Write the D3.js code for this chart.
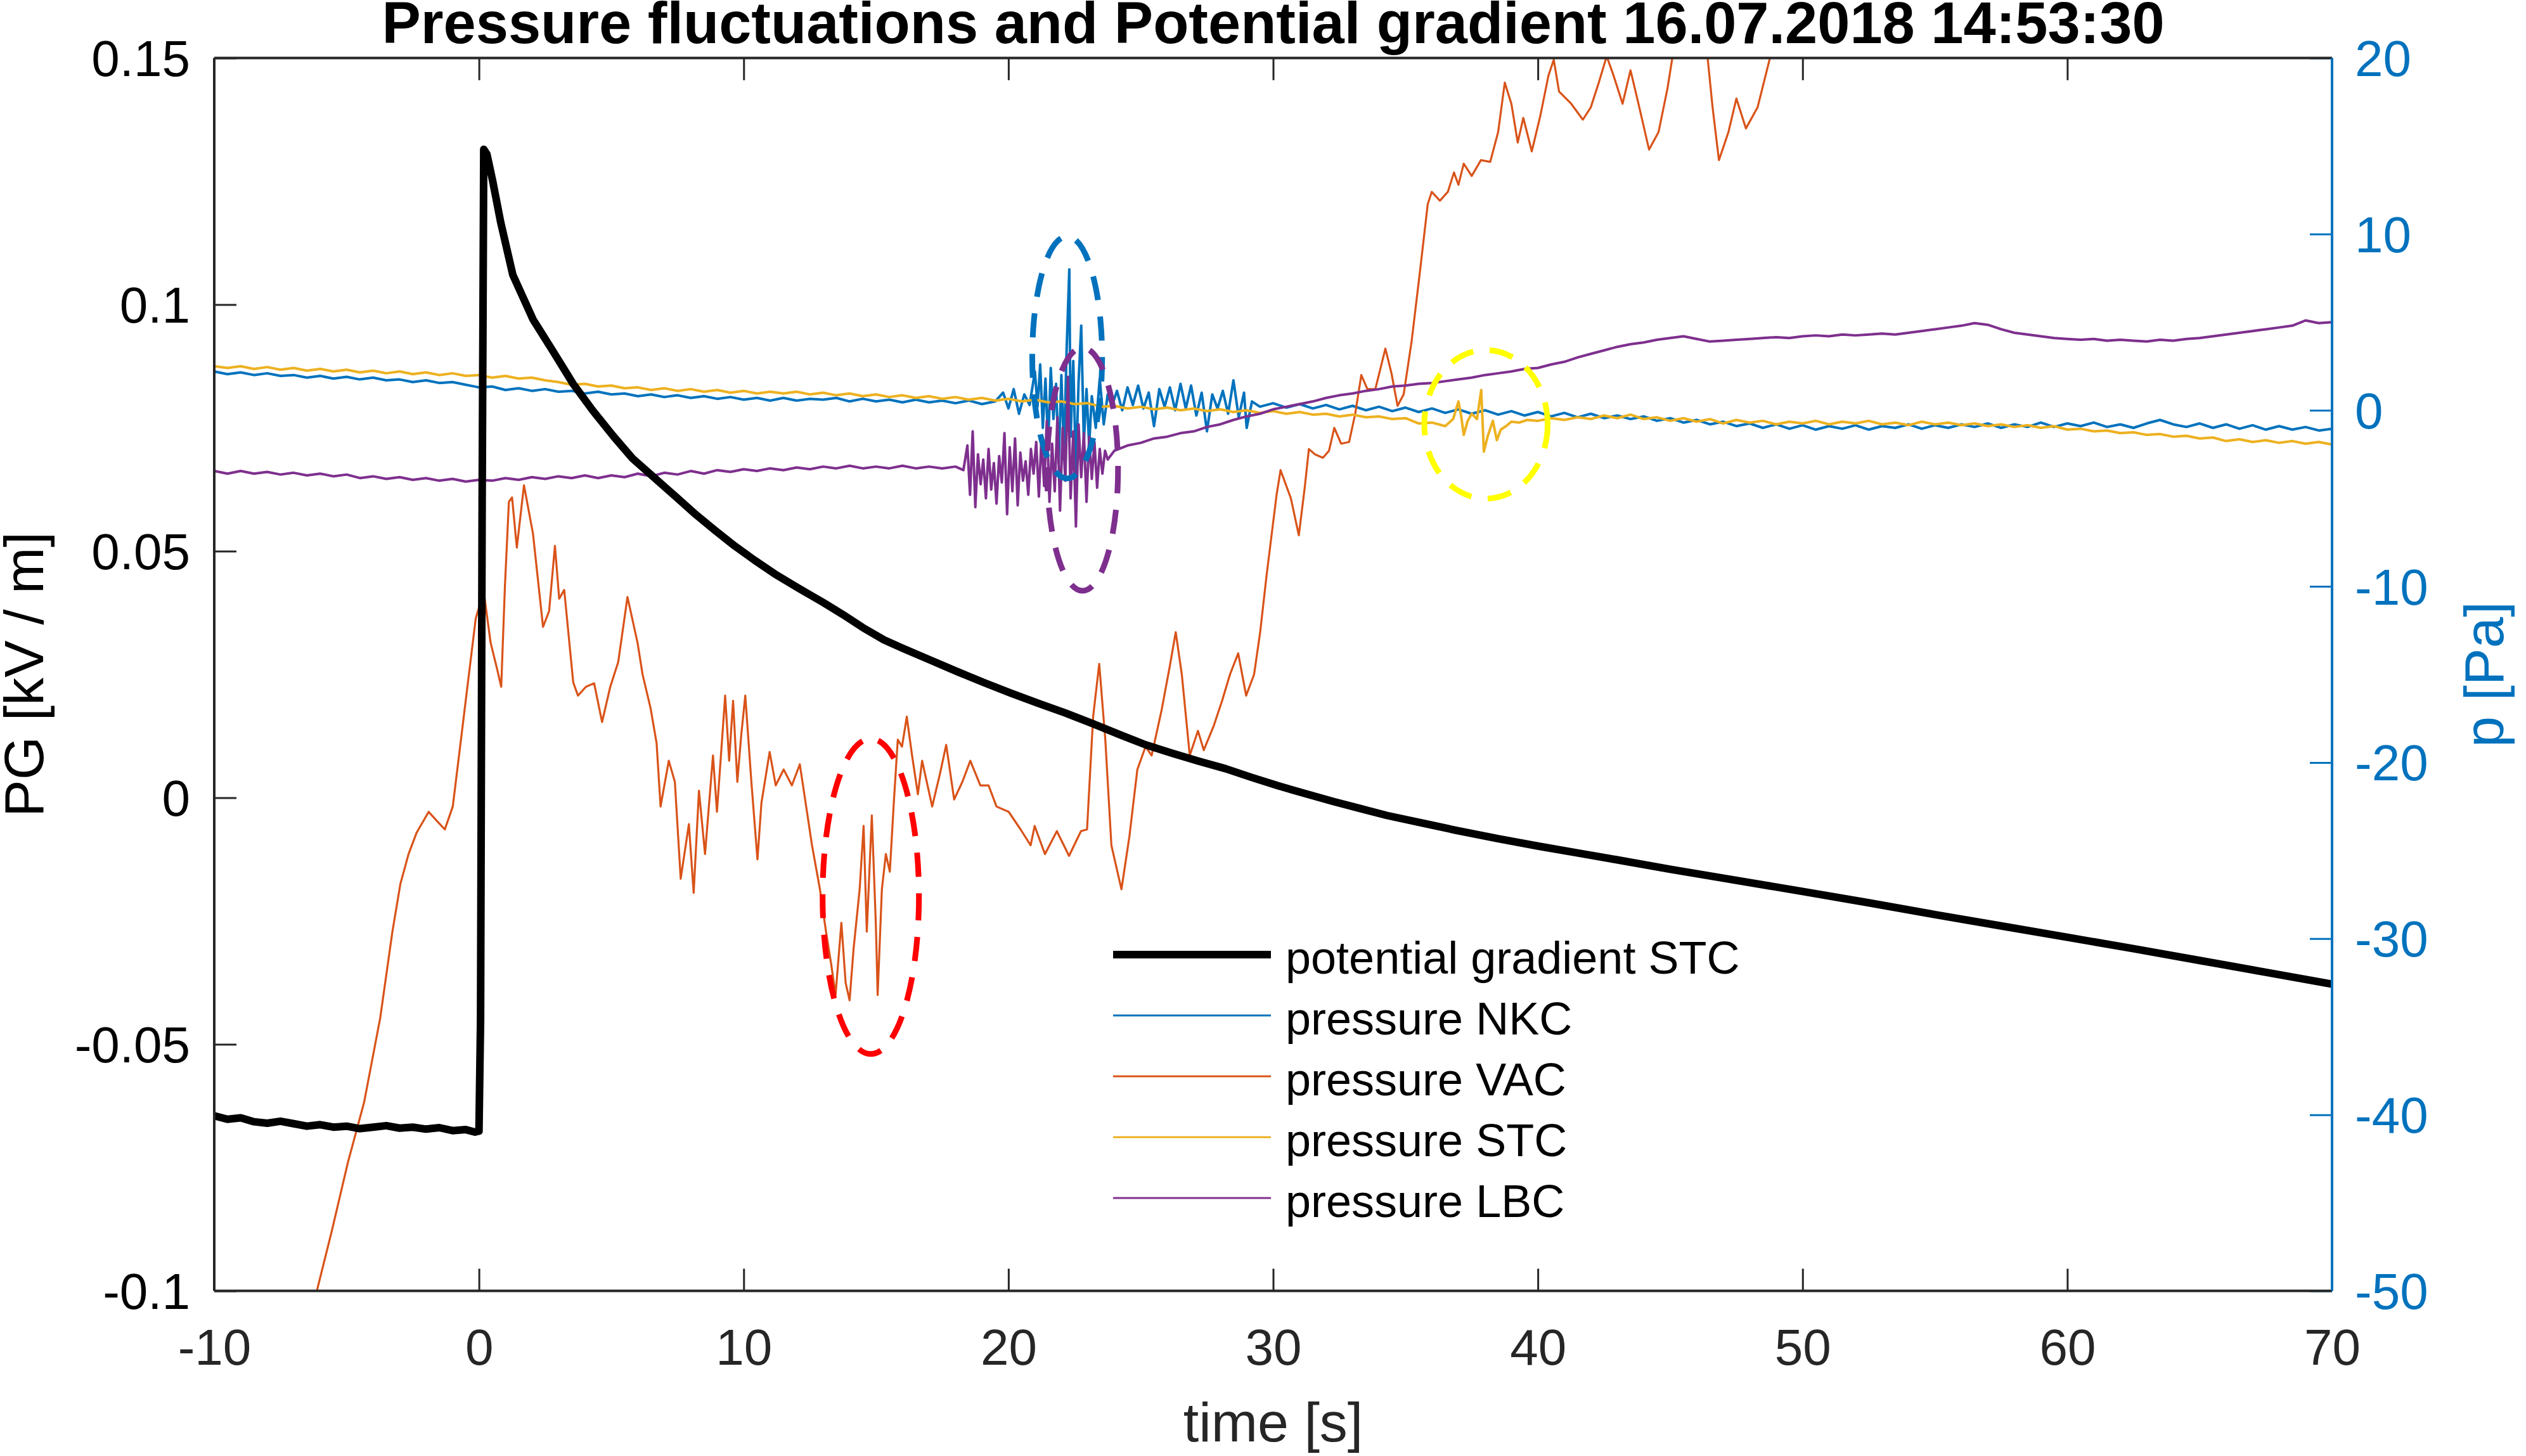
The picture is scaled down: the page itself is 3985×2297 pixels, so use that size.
<!DOCTYPE html>
<html>
<head>
<meta charset="utf-8">
<script src="https://cdn.jsdelivr.net/npm/d3@7"></script>
<style>
  body { margin: 0; background: #fff; }
  text { font-family: "Liberation Sans", Arial, Helvetica, sans-serif; }
</style>
</head>
<body>
<svg id="chart" width="3985" height="2297"></svg>
<script>
// ---- data ----
var xTicks = [-10, 0, 10, 20, 30, 40, 50, 60, 70];
var pgTicks = [-0.1, -0.05, 0, 0.05, 0.1, 0.15];
var pTicks = [-50, -40, -30, -20, -10, 0, 10, 20];

// potential gradient STC [kV/m]  (t, value)
var pgSTC = [[-10,-0.0645],[-9.5,-0.0652],[-9,-0.0649],[-8.5,-0.0657],[-8,-0.066],[-7.5,-0.0656],[-7,-0.0661],
  [-6.5,-0.0666],[-6,-0.0663],[-5.5,-0.0668],[-5,-0.0666],[-4.5,-0.0671],[-4,-0.0668],[-3.5,-0.0665],[-3,-0.067],
  [-2.5,-0.0668],[-2,-0.0672],[-1.5,-0.0669],[-1,-0.0675],[-0.5,-0.0673],[-0.15,-0.0678],[0,-0.0676],
  [0.06,-0.045],[0.12,0.06],[0.18,0.1315],[0.3,0.1305],[0.52,0.125],[0.82,0.1167],[1.28,0.106],[2.04,0.097],
  [2.8,0.0905],[3.56,0.0839],[4.3,0.0785],[5.08,0.0733],[5.8,0.0688],[6.6,0.065],[7.4,0.0612],[8.13,0.0577],
  [8.9,0.0543],[9.65,0.0511],[10.4,0.0482],[11.17,0.0454],[12.1,0.0424],[13.0,0.0396],[13.73,0.0372],[14.5,0.0345],
  [15.3,0.032],[16.05,0.0302],[17.1,0.0278],[18.1,0.0255],[19.1,0.0233],[20.1,0.0212],[21.1,0.0192],[22.14,0.0172],
  [23.2,0.015],[24.2,0.0128],[25.2,0.0107],[26.2,0.009],[27.2,0.0074],[28.2,0.0059],[29.2,0.0041],[30.2,0.0024],
  [31.3,0.0007],[32.3,-0.0008],[33.3,-0.0022],[34.3,-0.0036],[35.6,-0.0051],[36.9,-0.0066],[38.5,-0.0083],
  [40,-0.0098],[41.5,-0.0112],[43,-0.0126],[45,-0.0145],[47,-0.0163],[50,-0.019],[52.5,-0.0213],[55,-0.0237],
  [57.5,-0.026],[60,-0.0283],[62.5,-0.0306],[65,-0.033],[67.5,-0.0354],[70,-0.0378]];

// pressure NKC [Pa]
var pNKC = [[-10,2.2],[-9.5,2.05],[-9,2.15],[-8.5,2.0],[-8,2.1],[-7.5,1.95],[-7,2.0],[-6.5,1.85],[-6,1.95],[-5.5,1.8],
  [-5,1.9],[-4.5,1.75],[-4,1.85],[-3.5,1.7],[-3,1.75],[-2.5,1.6],[-2,1.7],[-1.5,1.55],[-1,1.6],[-0.5,1.45],[0,1.3],
  [0.5,1.35],[1,1.15],[1.5,1.25],[2,1.1],[2.5,1.2],[3,1.05],[3.5,1.1],[4,0.95],[4.5,1.05],[5,0.9],[5.5,0.95],[6,0.8],
  [6.5,0.9],[7,0.75],[7.5,0.85],[8,0.7],[8.5,0.8],[9,0.65],[9.5,0.75],[10,0.6],[10.5,0.7],[11,0.55],[11.5,0.7],[12,0.55],
  [12.5,0.65],[13,0.6],[13.5,0.7],[14,0.5],[14.5,0.65],[15,0.5],[15.5,0.6],[16,0.45],[16.5,0.6],[17,0.45],[17.5,0.55],
  [18,0.4],[18.5,0.55],[19,0.35],[19.5,0.5],[19.8,1.0],[20.0,0.1],[20.2,1.2],[20.4,-0.2],[20.6,0.9],[20.8,0.3],
  [21.0,2.2],[21.1,0.2],[21.2,2.6],[21.3,-1.0],[21.4,1.8],[21.5,-2.0],[21.6,2.4],[21.7,-0.5],[21.8,1.5],[21.9,-3.0],
  [22.0,2.0],[22.1,-2.5],[22.2,3.5],[22.3,8.0],[22.35,-1.5],[22.45,2.8],[22.55,-3.6],[22.65,1.6],[22.75,4.8],
  [22.85,-1.8],[22.95,1.2],[23.05,-2.0],[23.15,0.8],[23.3,-1.0],[23.45,1.8],[23.6,-0.8],[23.75,0.9],[23.9,0.2],
  [24.1,1.1],[24.3,0.0],[24.5,1.3],[24.7,0.3],[24.9,1.4],[25.1,0.1],[25.3,1.0],[25.5,-0.9],[25.7,1.2],[25.9,0.2],
  [26.1,1.3],[26.3,0.0],[26.5,1.5],[26.7,0.1],[26.9,1.4],[27.1,-0.3],[27.3,1.0],[27.5,-1.2],[27.7,0.9],[27.9,0.1],
  [28.1,1.1],[28.3,-0.2],[28.5,1.7],[28.7,-0.4],[28.9,1.0],[29.0,-1.0],[29.2,0.5],[29.5,0.2],[30,0.4],[30.5,0.15],
  [31,0.35],[31.5,0.1],[32,0.3],[32.5,0.05],[33,0.25],[33.5,0.0],[34,0.2],[34.5,-0.05],[35,0.15],[35.5,-0.1],[36,0.1],
  [36.5,-0.15],[37,0.05],[37.5,-0.2],[38,0.0],[38.5,-0.25],[39,-0.05],[39.5,-0.3],[40,-0.1],[40.5,-0.35],[41,-0.15],
  [41.5,-0.4],[42,-0.2],[42.5,-0.45],[43,-0.3],[43.5,-0.5],[44,-0.35],[44.5,-0.6],[45,-0.45],[45.5,-0.7],[46,-0.55],
  [46.5,-0.8],[47,-0.65],[47.5,-0.9],[48,-0.75],[48.5,-1.0],[49,-0.8],[49.5,-1.05],[50,-0.85],[50.5,-1.1],[51,-0.9],
  [51.5,-1.05],[52,-0.85],[52.5,-1.1],[53,-0.9],[53.5,-1.0],[54,-0.8],[54.5,-1.05],[55,-0.85],[55.5,-1.0],[56,-0.8],
  [56.5,-0.95],[57,-0.75],[57.5,-1.0],[58,-0.8],[58.5,-0.95],[59,-0.7],[59.5,-0.95],[60,-0.75],[60.5,-0.9],[61,-0.7],
  [61.5,-0.95],[62,-0.8],[62.5,-1.0],[63,-0.75],[63.5,-0.55],[64,-0.8],[64.5,-0.95],[65,-0.75],[65.5,-1.0],[66,-0.8],
  [66.5,-1.05],[67,-0.85],[67.5,-1.1],[68,-0.9],[68.5,-1.1],[69,-0.95],[69.5,-1.15],[70,-1.05]];

// pressure VAC [Pa]
var pVAC = [[-10,-74],[-8,-62],[-6.6,-53.2],[-6.09,-49.8],[-5.56,-46.6],[-4.95,-42.7],[-4.34,-39.3],[-3.73,-34.5],
  [-3.27,-29.6],[-2.97,-26.9],[-2.66,-25.2],[-2.36,-24.0],[-1.9,-22.8],[-1.6,-23.3],[-1.29,-23.8],[-0.99,-22.5],
  [-0.68,-18.7],[-0.38,-15.0],[-0.12,-11.8],[0.18,-10.3],[0.44,-13.2],[0.67,-14.6],[0.84,-15.7],[0.98,-10],
  [1.13,-5.2],[1.25,-4.95],[1.43,-7.8],[1.7,-4.26],[2.04,-7.0],[2.42,-12.3],[2.65,-11.4],[2.87,-7.7],[3.03,-10.7],
  [3.22,-10.2],[3.56,-15.45],[3.74,-16.2],[4.04,-15.7],[4.35,-15.5],[4.65,-17.7],[4.96,-15.7],[5.26,-14.3],
  [5.61,-10.6],[5.99,-13.2],[6.18,-15.0],[6.48,-16.9],[6.71,-18.9],[6.86,-22.5],[7.17,-19.9],[7.4,-21.1],
  [7.62,-26.6],[7.93,-23.5],[8.11,-27.4],[8.31,-21.6],[8.54,-25.2],[8.84,-19.6],[8.99,-22.8],[9.3,-16.2],
  [9.45,-19.9],[9.6,-16.5],[9.76,-21.1],[9.91,-18.4],[10.06,-16.2],[10.29,-21.1],[10.52,-25.5],[10.67,-22.3],
  [10.98,-19.4],[11.21,-21.3],[11.51,-20.4],[11.82,-21.3],[12.12,-20.1],[12.27,-21.6],[12.58,-24.7],[12.88,-27.2],
  [13.11,-29.6],[13.31,-31.5],[13.47,-33.2],[13.69,-29.1],[13.85,-32.5],[14.0,-33.5],[14.15,-30.6],[14.38,-27.2],
  [14.53,-23.6],[14.65,-29.6],[14.84,-23.0],[14.99,-29.1],[15.06,-33.2],[15.22,-27.2],[15.37,-25.2],[15.52,-26.2],
  [15.67,-22.3],[15.82,-18.7],[15.98,-19.1],[16.16,-17.4],[16.36,-19.6],[16.58,-21.8],[16.74,-19.9],[17.12,-22.5],
  [17.42,-20.6],[17.65,-19.0],[17.95,-22.1],[18.26,-21.1],[18.56,-19.9],[18.94,-21.3],[19.25,-21.3],[19.55,-22.5],
  [20.01,-22.8],[20.46,-23.8],[20.84,-24.7],[20.99,-23.6],[21.38,-25.2],[21.83,-23.9],[22.29,-25.3],[22.74,-23.9],
  [22.97,-23.8],[23.2,-17.4],[23.43,-14.4],[23.66,-18.7],[23.89,-24.7],[24.27,-27.2],[24.57,-24.2],[24.87,-20.4],
  [25.18,-19.1],[25.41,-19.6],[25.79,-17.0],[26.1,-14.5],[26.32,-12.6],[26.55,-15.0],[26.85,-19.6],[27.16,-18.2],
  [27.38,-19.3],[27.76,-17.9],[28.07,-16.5],[28.37,-15.0],[28.68,-13.8],[28.98,-16.2],[29.28,-15.0],[29.51,-12.6],
  [29.75,-9.4],[30.13,-4.8],[30.28,-3.4],[30.67,-5.0],[30.97,-7.1],[31.2,-4.3],[31.35,-2.2],[31.58,-2.5],
  [31.88,-2.7],[32.11,-2.3],[32.31,-1.0],[32.57,-1.9],[32.87,-1.8],[33.1,-0.2],[33.33,2.0],[33.56,1.2],[33.86,1.2],
  [34.24,3.5],[34.47,2.1],[34.7,0.25],[34.93,0.9],[35.23,3.9],[35.54,7.8],[35.84,11.7],[35.99,12.4],[36.3,11.9],
  [36.6,12.4],[36.83,13.5],[37.0,12.8],[37.2,14.0],[37.5,13.3],[37.85,14.2],[38.2,14.1],[38.5,15.8],[38.75,18.6],
  [39.0,17.4],[39.24,15.2],[39.45,16.6],[39.77,14.7],[40.09,16.7],[40.4,19.0],[40.6,19.9],[40.8,18.1],[41.26,17.4],
  [41.7,16.5],[42.0,17.2],[42.3,18.6],[42.6,20.1],[42.86,19.0],[43.2,17.4],[43.5,19.3],[43.8,17.4],[44.2,14.8],
  [44.56,15.8],[44.9,18.3],[45.1,20.2],[45.8,22.5],[46.4,20.2],[46.6,17.2],[46.84,14.2],[47.2,15.8],[47.5,17.7],
  [47.86,16.0],[48.3,17.2],[48.6,19.0],[48.8,20.2],[49.3,23.5]];

// pressure STC [Pa]
var pSTC = [[-10,2.5],[-9.5,2.4],[-9,2.5],[-8.5,2.35],[-8,2.45],[-7.5,2.3],[-7,2.4],[-6.5,2.25],[-6,2.35],[-5.5,2.2],
  [-5,2.3],[-4.5,2.15],[-4,2.25],[-3.5,2.1],[-3,2.2],[-2.5,2.05],[-2,2.15],[-1.5,2.0],[-1,2.1],[-0.5,1.95],[0,2.0],
  [0.5,1.85],[1,1.95],[1.5,1.8],[2,1.85],[2.5,1.7],[3,1.6],[3.5,1.45],[4,1.5],[4.5,1.35],[5,1.4],[5.5,1.25],[6,1.3],
  [6.5,1.15],[7,1.25],[7.5,1.1],[8,1.2],[8.5,1.05],[9,1.15],[9.5,1.0],[10,1.1],[10.5,0.95],[11,1.05],[11.5,0.95],
  [12,1.05],[12.5,0.9],[13,1.0],[13.5,0.85],[14,0.95],[14.5,0.8],[15,0.9],[15.5,0.75],[16,0.85],[16.5,0.7],[17,0.8],
  [17.5,0.65],[18,0.75],[18.5,0.6],[19,0.7],[19.5,0.55],[20,0.65],[20.5,0.5],[21,0.6],[21.5,0.45],[22,0.5],
  [22.5,0.35],[23,0.4],[23.5,0.2],[24,0.25],[24.5,0.1],[25,0.2],[25.5,0.05],[26,0.15],[26.5,0.0],[27,0.1],
  [27.5,-0.05],[28,0.05],[28.5,-0.1],[29,0.0],[29.5,-0.15],[30,-0.05],[30.5,-0.2],[31,-0.1],[31.5,-0.25],[32,-0.2],
  [32.5,-0.35],[33,-0.25],[33.5,-0.4],[34,-0.35],[34.5,-0.5],[35,-0.45],[35.5,-0.75],[36,-0.7],[36.5,-0.9],
  [36.8,-0.5],[37.0,0.5],[37.1,-0.3],[37.2,-1.4],[37.35,-0.6],[37.5,-0.2],[37.7,-0.5],[37.86,1.15],[37.96,-2.35],
  [38.1,-1.5],[38.3,-0.6],[38.45,-1.7],[38.6,-1.1],[38.8,-0.9],[39.0,-0.65],[39.3,-0.7],[39.6,-0.55],[40,-0.6],
  [40.5,-0.45],[41,-0.55],[41.5,-0.4],[42,-0.5],[42.5,-0.3],[43,-0.45],[43.5,-0.25],[44,-0.5],[44.5,-0.4],[45,-0.6],
  [45.5,-0.45],[46,-0.65],[46.5,-0.5],[47,-0.75],[47.5,-0.55],[48,-0.7],[48.5,-0.6],[49,-0.8],[49.5,-0.65],
  [50,-0.75],[50.5,-0.6],[51,-0.8],[51.5,-0.65],[52,-0.75],[52.5,-0.6],[53,-0.8],[53.5,-0.7],[54,-0.85],[54.5,-0.65],
  [55,-0.8],[55.5,-0.7],[56,-0.85],[56.5,-0.75],[57,-0.9],[57.5,-0.8],[58,-0.95],[58.5,-0.85],[59,-1.0],[59.5,-0.9],
  [60,-1.1],[60.5,-1.05],[61,-1.2],[61.5,-1.15],[62,-1.3],[62.5,-1.25],[63,-1.4],[63.5,-1.35],[64,-1.5],
  [64.5,-1.45],[65,-1.6],[65.5,-1.55],[66,-1.75],[66.5,-1.65],[67,-1.8],[67.5,-1.7],[68,-1.85],[68.5,-1.75],
  [69,-1.9],[69.5,-1.8],[70,-1.95]];

// pressure LBC [Pa]
var pLBC = [[-10,-3.45],[-9.5,-3.6],[-9,-3.45],[-8.5,-3.6],[-8,-3.5],[-7.5,-3.65],[-7,-3.55],[-6.5,-3.7],[-6,-3.6],
  [-5.5,-3.75],[-5,-3.65],[-4.5,-3.85],[-4,-3.75],[-3.5,-3.9],[-3,-3.8],[-2.5,-3.95],[-2,-3.85],[-1.5,-4.0],
  [-1,-3.9],[-0.5,-4.05],[0,-3.95],[0.5,-4.0],[1,-3.85],[1.5,-3.95],[2,-3.8],[2.5,-3.9],[3,-3.75],[3.5,-3.85],
  [4,-3.7],[4.5,-3.85],[5,-3.7],[5.5,-3.8],[6,-3.6],[6.5,-3.75],[7,-3.55],[7.5,-3.65],[8,-3.45],[8.5,-3.6],[9,-3.4],
  [9.5,-3.5],[10,-3.35],[10.5,-3.45],[11,-3.3],[11.5,-3.4],[12,-3.25],[12.5,-3.35],[13,-3.2],[13.5,-3.3],
  [14,-3.15],[14.5,-3.3],[15,-3.2],[15.5,-3.3],[16,-3.15],[16.5,-3.3],[17,-3.2],[17.5,-3.3],[18,-3.2],[18.3,-3.4],
  [18.45,-2.0],[18.55,-4.8],[18.65,-1.2],[18.75,-5.5],[18.85,-2.5],[18.95,-4.2],[19.05,-2.8],[19.15,-5.0],
  [19.25,-2.2],[19.35,-4.5],[19.45,-3.0],[19.55,-5.3],[19.65,-2.6],[19.75,-4.1],[19.85,-1.3],[19.95,-5.9],
  [20.05,-2.1],[20.15,-4.6],[20.25,-1.6],[20.35,-5.4],[20.45,-2.4],[20.55,-4.0],[20.65,-2.9],[20.75,-4.8],
  [20.85,-2.2],[20.95,-3.6],[21.05,-1.8],[21.15,-4.9],[21.25,-1.5],[21.35,-4.3],[21.45,-0.6],[21.55,-5.2],
  [21.65,-1.9],[21.75,-4.6],[21.85,-0.4],[21.95,-5.7],[22.05,-1.0],[22.15,-4.0],[22.25,1.9],[22.35,-5.0],
  [22.45,-1.2],[22.55,-6.6],[22.65,-0.8],[22.75,-3.8],[22.85,-1.3],[22.95,-5.2],[23.05,-1.5],[23.15,-3.9],
  [23.25,-1.8],[23.35,-4.4],[23.45,-2.2],[23.55,-3.6],[23.65,-2.3],[23.75,-2.8],[24,-2.3],[24.5,-2.0],[25,-1.85],
  [25.5,-1.6],[26,-1.5],[26.5,-1.3],[27,-1.2],[27.5,-0.95],[28,-0.8],[28.5,-0.55],[29,-0.35],[29.5,-0.2],[30,0.05],
  [30.5,0.2],[31,0.35],[31.5,0.5],[32,0.7],[32.5,0.85],[33,0.95],[33.5,1.1],[34,1.2],[34.5,1.35],[35,1.4],[35.5,1.5],
  [36,1.55],[36.5,1.65],[37,1.75],[37.5,1.85],[38,2.0],[38.5,2.1],[39,2.2],[39.5,2.35],[40,2.4],[40.5,2.6],
  [41,2.75],[41.5,3.0],[42,3.2],[42.5,3.4],[43,3.6],[43.5,3.75],[44,3.85],[44.5,4.0],[45,4.1],[45.5,4.2],[46,4.05],
  [46.5,3.9],[47,3.95],[47.5,4.0],[48,4.05],[48.5,4.1],[49,4.15],[49.5,4.1],[50,4.2],[50.5,4.25],[51,4.2],
  [51.5,4.3],[52,4.25],[52.5,4.3],[53,4.35],[53.5,4.3],[54,4.4],[54.5,4.5],[55,4.6],[55.5,4.7],[56,4.8],
  [56.5,4.95],[57,4.85],[57.5,4.6],[58,4.4],[58.5,4.3],[59,4.2],[59.5,4.1],[60,4.05],[60.5,4.0],[61,4.05],
  [61.5,3.95],[62,4.0],[62.5,3.95],[63,3.9],[63.5,4.0],[64,3.95],[64.5,4.05],[65,4.1],[65.5,4.2],[66,4.3],
  [66.5,4.4],[67,4.5],[67.5,4.6],[68,4.7],[68.5,4.8],[69,5.1],[69.5,4.95],[70,5.0]];

// dashed marker ellipses: centre (t, p) and half-widths (s, Pa)
var markT = [22.22, 22.8, 38.04, 14.8];
var markP = [3.0, -3.35, -0.8, -27.6];
var markRt = [1.32, 1.34, 2.33, 1.82];
var markRp = [6.87, 6.9, 4.22, 8.95];
var markColors = ["#0072BD", "#7E2F8E", "#FFFF00", "#FF0000"];

var legendNames = ["potential gradient STC", "pressure NKC", "pressure VAC", "pressure STC", "pressure LBC"];
var seriesColors = ["#000000", "#0072BD", "#D95319", "#EDB120", "#7E2F8E"];

// ---- layout ----
var mLeft = 338, mRight = 3679, mTop = 91.5, mBottom = 2036.5;
var axisColor = "#262626", rightColor = "#0072BD";

var svg = d3.select("#chart");

var x = d3.scaleLinear().domain([-10, 70]).range([mLeft, mRight]);
var yL = d3.scaleLinear().domain([-0.1, 0.15]).range([mBottom, mTop]);
var yR = d3.scaleLinear().domain([-50, 20]).range([mBottom, mTop]);

svg.append("defs").append("clipPath").attr("id", "plotclip")
    .append("rect").attr("x", mLeft).attr("y", mTop)
    .attr("width", mRight - mLeft).attr("height", mBottom - mTop);

var plot = svg.append("g").attr("clip-path", "url(#plotclip)");

var lineR = d3.line().x(function(d){ return x(d[0]); }).y(function(d){ return yR(d[1]); });
var lineL = d3.line().x(function(d){ return x(d[0]); }).y(function(d){ return yL(d[1]); });

var pressure = [pNKC, pVAC, pSTC, pLBC];
pressure.forEach(function(s, i){
    plot.append("path")
        .attr("d", lineR(s))
        .attr("fill", "none")
        .attr("stroke", seriesColors[i + 1])
        .attr("stroke-width", i === 1 ? 3.2 : 4)
        .attr("stroke-linejoin", "round");
});

plot.append("path")
    .attr("d", lineL(pgSTC))
    .attr("fill", "none")
    .attr("stroke", "#000")
    .attr("stroke-width", 12)
    .attr("stroke-linejoin", "round")
    .attr("stroke-linecap", "round");

// dashed ellipses
markT.forEach(function(t, i){
    plot.append("ellipse")
        .attr("cx", x(t))
        .attr("cy", yR(markP[i]))
        .attr("rx", x(t + markRt[i]) - x(t))
        .attr("ry", yR(markP[i]) - yR(markP[i] + markRp[i]))
        .attr("fill", "none")
        .attr("stroke", markColors[i])
        .attr("stroke-width", 9)
        .attr("stroke-dasharray", "38 26");
});

// ---- axes ----
var tickLen = 35;

// x ticks bottom and top (inward)
var xb = svg.append("g").attr("transform", "translate(0," + mBottom + ")")
    .call(d3.axisBottom(x).tickValues(xTicks).tickSize(-tickLen).tickFormat(function(d){ return d; }));
xb.select(".domain").remove();
xb.selectAll(".tick line").attr("stroke", axisColor).attr("stroke-width", 3);
xb.selectAll(".tick text").attr("font-size", 80).attr("fill", axisColor)
    .attr("y", 116).attr("dy", null);

var xt = svg.append("g").attr("transform", "translate(0," + mTop + ")")
    .call(d3.axisTop(x).tickValues(xTicks).tickSize(-tickLen).tickFormat(""));
xt.select(".domain").remove();
xt.selectAll(".tick line").attr("stroke", axisColor).attr("stroke-width", 3);

// left axis
var yl = svg.append("g").attr("transform", "translate(" + mLeft + ",0)")
    .call(d3.axisLeft(yL).tickValues(pgTicks).tickSize(-tickLen).tickFormat(function(d){ return d; }));
yl.select(".domain").remove();
yl.selectAll(".tick line").attr("stroke", axisColor).attr("stroke-width", 3);
yl.selectAll(".tick text").attr("font-size", 80).attr("fill", "#000")
    .attr("x", -38).attr("dy", "0.35em");

// right axis
var yr = svg.append("g").attr("transform", "translate(" + mRight + ",0)")
    .call(d3.axisRight(yR).tickValues(pTicks).tickSize(-tickLen).tickFormat(function(d){ return d; }));
yr.select(".domain").remove();
yr.selectAll(".tick line").attr("stroke", rightColor).attr("stroke-width", 3);
yr.selectAll(".tick text").attr("font-size", 80).attr("fill", rightColor)
    .attr("x", 36).attr("dy", "0.35em");

// box
svg.append("line").attr("x1", mLeft).attr("x2", mRight).attr("y1", mTop).attr("y2", mTop)
    .attr("stroke", axisColor).attr("stroke-width", 4);
svg.append("line").attr("x1", mLeft).attr("x2", mRight).attr("y1", mBottom).attr("y2", mBottom)
    .attr("stroke", axisColor).attr("stroke-width", 4);
svg.append("line").attr("x1", mLeft).attr("x2", mLeft).attr("y1", mTop).attr("y2", mBottom)
    .attr("stroke", axisColor).attr("stroke-width", 4);
svg.append("line").attr("x1", mRight).attr("x2", mRight).attr("y1", mTop).attr("y2", mBottom)
    .attr("stroke", rightColor).attr("stroke-width", 4);

// titles and labels
svg.append("text")
    .text("Pressure fluctuations and Potential gradient 16.07.2018 14:53:30")
    .attr("x", (mLeft + mRight) / 2).attr("y", 68)
    .attr("font-size", 92).attr("font-weight", "bold")
    .attr("text-anchor", "middle").attr("fill", "#000");

svg.append("text")
    .text("time [s]")
    .attr("x", (mLeft + mRight) / 2).attr("y", 2274)
    .attr("font-size", 88).attr("text-anchor", "middle").attr("fill", axisColor);

svg.append("text")
    .text("PG [kV / m]")
    .attr("transform", "translate(68," + (mTop + mBottom) / 2 + ") rotate(-90)")
    .attr("font-size", 88).attr("text-anchor", "middle").attr("fill", "#000");

svg.append("text")
    .text("p [Pa]")
    .attr("transform", "translate(3949," + (mTop + mBottom) / 2 + ") rotate(-90)")
    .attr("font-size", 88).attr("text-anchor", "middle").attr("fill", rightColor);

// legend
var legendX1 = 1756, legendX2 = 2005, legendTextX = 2028, legendY0 = 1506, legendStep = 96;
legendNames.forEach(function(name, i){
    var ly = legendY0 + i * legendStep;
    svg.append("line")
        .attr("x1", legendX1).attr("x2", legendX2).attr("y1", ly).attr("y2", ly)
        .attr("stroke", seriesColors[i])
        .attr("stroke-width", i === 0 ? 12 : 3.2);
    svg.append("text")
        .text(name)
        .attr("x", legendTextX).attr("y", ly + 30)
        .attr("font-size", 72).attr("fill", "#000");
});
</script>
</body>
</html>
